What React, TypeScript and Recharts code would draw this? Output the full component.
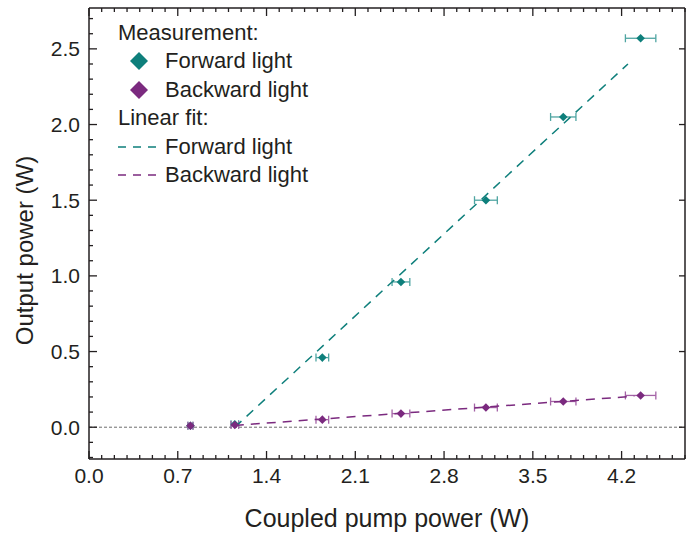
import React from 'react';
import { ScatterChart, Scatter, XAxis, YAxis, ErrorBar, ReferenceLine, Legend, Label } from 'recharts';

// Measured data
const pumpPower = [0.8, 1.15, 1.84, 2.46, 3.13, 3.74, 4.35];
const pumpPowerError = [0.02, 0.03, 0.05, 0.07, 0.09, 0.1, 0.12];
const forwardPower = [0.01, 0.02, 0.46, 0.96, 1.5, 2.05, 2.57];
const backwardPower = [0.01, 0.015, 0.05, 0.09, 0.13, 0.17, 0.21];

// Linear fits (end points)
const forwardFitX = [1.15, 4.25];
const forwardFitY = [0.0, 2.4];
const backwardFitX = [1.15, 4.3];
const backwardFitY = [0.012, 0.205];

// Axis ticks
const xTickValues = [0, 0.7, 1.4, 2.1, 2.8, 3.5, 4.2];
const yTickValues = [0, 0.5, 1.0, 1.5, 2.0, 2.5];
const xMinorTickValues = Array.from({ length: 48 }, (_, i) => +(i * 0.1).toFixed(1));
const yMinorTickValues = Array.from({ length: 30 }, (_, i) => +(-0.2 + i * 0.1).toFixed(1));

const X_DOMAIN = [0, 4.7];
const Y_DOMAIN = [-0.21, 2.77];

const TEAL = '#0e7f7b';
const TEAL_ERR = '#4fa5a2';
const PURPLE = '#7b2a7f';
const PURPLE_ERR = '#a463a6';
const INK = '#231f20';
const FONT = '"Liberation Sans", Arial, Helvetica, sans-serif';
const TICK_FONT = '"Liberation Sans Narrow", "Arial Narrow", "Liberation Sans", Arial, sans-serif';

const forwardData = pumpPower.map((x, i) => ({ x, y: forwardPower[i], xErr: pumpPowerError[i] }));
const backwardData = pumpPower.map((x, i) => ({ x, y: backwardPower[i], xErr: pumpPowerError[i] }));
const forwardFit = forwardFitX.map((x, i) => ({ x, y: forwardFitY[i] }));
const backwardFit = backwardFitX.map((x, i) => ({ x, y: backwardFitY[i] }));

const diamondShape = (color: string) => (props: any) => {
  const { cx, cy } = props;
  if (cx == null || cy == null) return <g />;
  const r = 4.3;
  return (
    <polygon
      points={`${cx},${cy - r} ${cx + r},${cy} ${cx},${cy + r} ${cx - r},${cy}`}
      fill={color}
    />
  );
};

const emptyShape = () => <g />;

const makeTick = (side: string, majors: number[], majorLen: number, minorLen: number) => (props: any) => {
  const { x, y, payload } = props;
  const v = payload.value;
  const isMajor = majors.some((m) => Math.abs(m - v) < 1e-6);
  const len = isMajor ? majorLen : minorLen;
  let x2 = x;
  let y2 = y;
  if (side === 'bottom') y2 = y - len;
  if (side === 'top') y2 = y + len;
  if (side === 'left') x2 = x + len;
  if (side === 'right') x2 = x - len;
  return <line x1={x} y1={y} x2={x2} y2={y2} stroke={INK} strokeWidth={1.3} />;
};

const LegendContent = () => {
  const row: React.CSSProperties = { height: 28.5, display: 'flex', alignItems: 'center', whiteSpace: 'nowrap' };
  const marker = (color: string) => (
    <svg width={47} height={28} style={{ display: 'block' }}>
      <polygon points="21,5 30,14 21,23 12,14" fill={color} />
    </svg>
  );
  const dash = (color: string) => (
    <svg width={47} height={28} style={{ display: 'block' }}>
      <line x1={0} y1={14} x2={40} y2={14} stroke={color} strokeWidth={1.5} strokeDasharray="8 7" />
    </svg>
  );
  return (
    <div style={{ fontFamily: FONT, fontSize: 22, color: INK, lineHeight: '28.5px' }}>
      <div style={row}>Measurement:</div>
      <div style={row}>{marker(TEAL)}<span>Forward light</span></div>
      <div style={row}>{marker(PURPLE)}<span>Backward light</span></div>
      <div style={row}>Linear fit:</div>
      <div style={row}>{dash(TEAL)}<span>Forward light</span></div>
      <div style={row}>{dash(PURPLE)}<span>Backward light</span></div>
    </div>
  );
};

const YTitle = (props: any) => {
  const vb = props.viewBox || { x: 0, y: 0, width: 0, height: 0 };
  const cx = vb.x + vb.width * 0.27;
  const cy = vb.y + vb.height / 2 + 17;
  return (
    <text
      x={cx}
      y={cy}
      transform={`rotate(-90, ${cx}, ${cy})`}
      textAnchor="middle"
      dominantBaseline="central"
      fill={INK}
      fontSize={24}
      fontFamily={FONT}
    >
      Output power (W)
    </text>
  );
};

export default function App() {
  return (
    <div style={{ position: 'absolute', left: 0, top: 0 }}>
      <ScatterChart width={687} height={538} margin={{ top: 8, right: 2, bottom: 0, left: 0 }}>
        <XAxis
          xAxisId="x"
          type="number"
          dataKey="x"
          orientation="bottom"
          domain={X_DOMAIN}
          allowDataOverflow
          ticks={xTickValues}
          interval={0}
          tickFormatter={(v: number) => v.toFixed(1)}
          tickLine={false}
          tickSize={0}
          tickMargin={9}
          height={79}
          axisLine={{ stroke: INK, strokeWidth: 1.5 }}
          tick={{ fill: INK, fontSize: 21, fontFamily: TICK_FONT }}
        >
          <Label
            value="Coupled pump power (W)"
            position="insideBottom"
            offset={11}
            fill={INK}
            fontSize={25}
            fontFamily={FONT}
          />
        </XAxis>
        <XAxis
          xAxisId="xb"
          type="number"
          dataKey="x"
          orientation="bottom"
          mirror
          domain={X_DOMAIN}
          allowDataOverflow
          ticks={xMinorTickValues}
          interval={0}
          tickLine={false}
          tickSize={0}
          tickMargin={0}
          axisLine={false}
          tick={makeTick('bottom', xTickValues, 8, 4)}
        />
        <XAxis
          xAxisId="xt"
          type="number"
          dataKey="x"
          orientation="top"
          mirror
          domain={X_DOMAIN}
          allowDataOverflow
          ticks={xMinorTickValues}
          interval={0}
          tickLine={false}
          tickSize={0}
          tickMargin={0}
          axisLine={{ stroke: INK, strokeWidth: 1.5 }}
          tick={makeTick('top', xTickValues, 8, 4)}
        />
        <YAxis
          yAxisId="y"
          type="number"
          dataKey="y"
          orientation="left"
          domain={Y_DOMAIN}
          allowDataOverflow
          ticks={yTickValues}
          interval={0}
          tickFormatter={(v: number) => v.toFixed(1)}
          tickLine={false}
          tickSize={0}
          tickMargin={9}
          width={89}
          axisLine={{ stroke: INK, strokeWidth: 1.5 }}
          tick={{ fill: INK, fontSize: 21, fontFamily: TICK_FONT }}
        >
          <Label content={YTitle} />
        </YAxis>
        <YAxis
          yAxisId="yl"
          type="number"
          dataKey="y"
          orientation="left"
          mirror
          domain={Y_DOMAIN}
          allowDataOverflow
          ticks={yMinorTickValues}
          interval={0}
          tickLine={false}
          tickSize={0}
          tickMargin={0}
          axisLine={false}
          tick={makeTick('left', yTickValues, 8, 4)}
        />
        <YAxis
          yAxisId="yr"
          type="number"
          dataKey="y"
          orientation="right"
          mirror
          domain={Y_DOMAIN}
          allowDataOverflow
          ticks={yTickValues}
          interval={0}
          tickLine={false}
          tickSize={0}
          tickMargin={0}
          axisLine={{ stroke: INK, strokeWidth: 1.5 }}
          tick={makeTick('right', yTickValues, 6, 4)}
        />
        <ReferenceLine
          xAxisId="x"
          yAxisId="y"
          y={0}
          stroke="#6d6d6d"
          strokeWidth={1}
          strokeDasharray="3 2"
        />
        <Scatter
          xAxisId="x"
          yAxisId="y"
          data={forwardFit}
          line={{ stroke: TEAL, strokeWidth: 1.5, strokeDasharray: '9 7' }}
          shape={emptyShape}
          isAnimationActive={false}
        />
        <Scatter
          xAxisId="x"
          yAxisId="y"
          data={backwardFit}
          line={{ stroke: PURPLE, strokeWidth: 1.5, strokeDasharray: '9 7' }}
          shape={emptyShape}
          isAnimationActive={false}
        />
        <Scatter
          xAxisId="x"
          yAxisId="y"
          data={forwardData}
          shape={diamondShape(TEAL)}
          isAnimationActive={false}
        >
          <ErrorBar dataKey="xErr" direction="x" width={4} stroke={TEAL_ERR} strokeWidth={1.3} isAnimationActive={false} />
        </Scatter>
        <Scatter
          xAxisId="x"
          yAxisId="y"
          data={backwardData}
          shape={diamondShape(PURPLE)}
          isAnimationActive={false}
        >
          <ErrorBar dataKey="xErr" direction="x" width={4} stroke={PURPLE_ERR} strokeWidth={1.3} isAnimationActive={false} />
        </Scatter>
        <Legend
          layout="horizontal"
          verticalAlign="middle"
          align="center"
          content={LegendContent}
          wrapperStyle={{ left: 118, top: 18.5, width: 'auto', height: 'auto' }}
        />
      </ScatterChart>
    </div>
  );
}
